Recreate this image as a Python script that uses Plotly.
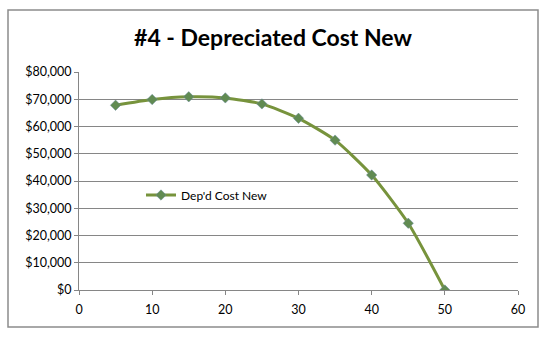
import plotly.graph_objects as go

years = [5, 10, 15, 20, 25, 30, 35, 40, 45, 50]
dep_cost_new = [67800, 69900, 70900, 70500, 68300, 63000, 55000, 42200, 24500, 0]
series_name = "Dep'd Cost New"
title_text = "#4 - Depreciated Cost New"

L, R, T, B = 79, 518, 72, 290
W, H = 550, 338
pw, ph = R - L, B - T

fig = go.Figure()
fig.add_trace(go.Scatter(
    x=years, y=dep_cost_new, name=series_name, mode="lines+markers",
    line=dict(color="#77933C", width=3, shape="spline", smoothing=0.6),
    marker=dict(symbol="diamond", size=8, color="#618B52",
                line=dict(color="#6A8AA0", width=0.5)),
))

font_fam = "Lato, 'Open Sans', sans-serif"
fig.update_layout(
    width=W, height=H,
    margin=dict(l=L, r=W - R, t=T, b=H - B),
    paper_bgcolor="white", plot_bgcolor="white",
    title=dict(text="<b>" + title_text + "</b>", x=273 / W, xref="container",
               xanchor="center", y=1 - 38 / H, yref="container", yanchor="middle",
               font=dict(family=font_fam, size=23, color="#000000")),
    showlegend=True,
    legend=dict(x=(141 - L) / pw, y=(B - 195) / ph, xanchor="left", yanchor="middle",
                bgcolor="rgba(0,0,0,0)", font=dict(family=font_fam, size=12, color="#000"),
                itemwidth=30),
    xaxis=dict(range=[0, 60], dtick=10, tick0=0, showgrid=False, zeroline=False,
               showline=True, linecolor="#868686", linewidth=1,
               ticks="outside", ticklen=4, tickcolor="#868686",
               ticklabelstandoff=4,
               tickfont=dict(family=font_fam, size=12.5, color="#000")),
    yaxis=dict(range=[0, 80000], dtick=10000, tick0=0, showgrid=True,
               gridcolor="#868686", gridwidth=1, zeroline=False,
               showline=True, linecolor="#868686", linewidth=1,
               ticks="outside", ticklen=4, tickcolor="#868686",
               tickprefix="$", tickformat=",d",
               tickfont=dict(family=font_fam, size=12.5, color="#000")),
    shapes=[dict(type="rect", xref="paper", yref="paper",
                 x0=(8 - L) / pw, x1=(538 - L) / pw,
                 y0=(B - 327) / ph, y1=(B - 10) / ph,
                 line=dict(color="#8C8C8C", width=1.5), fillcolor="rgba(0,0,0,0)",
                 layer="below")],
)

fig.write_html("out.html")
